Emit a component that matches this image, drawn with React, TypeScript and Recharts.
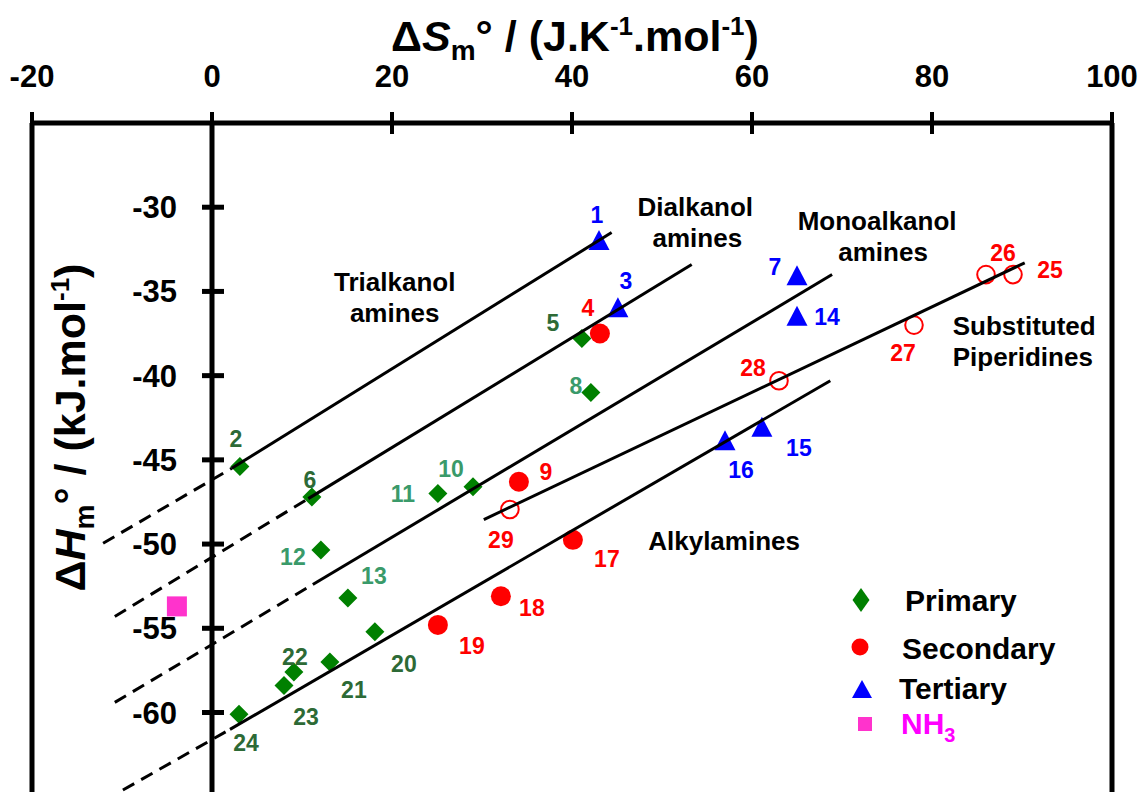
import React from 'react';
import {
  ComposedChart,
  Scatter,
  Line,
  XAxis,
  YAxis,
  ReferenceLine,
  ReferenceDot,
  Legend,
} from 'recharts';

const FONT = '"Liberation Sans", Arial, Helvetica, sans-serif';

// chart frame
const CHART_W = 1142;
const CHART_H = 792;
const MARGIN = { top: 0, right: 30, bottom: 0, left: 31 };
const X_AXIS_H = 123;
const Y_AXIS_W = 1;
const X_DOMAIN: [number, number] = [-20, 100];
const Y_DOMAIN: [number, number] = [-64.72, -25];
const X_TICKS = [-20, 0, 20, 40, 60, 80, 100];
const Y_TICKS = [-60, -55, -50, -45, -40, -35, -30];

// ΔS (s) / ΔH (h) values, id = compound number
const PRIMARY = [
  { id: 2, s: 3.1, h: -45.4 },
  { id: 5, s: 41.1, h: -37.8 },
  { id: 6, s: 11.1, h: -47.2 },
  { id: 8, s: 42.1, h: -41.0 },
  { id: 10, s: 29.0, h: -46.6 },
  { id: 11, s: 25.1, h: -47.0 },
  { id: 12, s: 12.1, h: -50.35 },
  { id: 13, s: 15.1, h: -53.2 },
  { id: 20, s: 18.1, h: -55.2 },
  { id: 21, s: 13.1, h: -57.0 },
  { id: 22, s: 9.1, h: -57.6 },
  { id: 23, s: 8.0, h: -58.4 },
  { id: 24, s: 3.0, h: -60.1 },
];

const SECONDARY = [
  { id: 4, s: 43.1, h: -37.5 },
  { id: 9, s: 34.1, h: -46.3 },
  { id: 17, s: 40.1, h: -49.75 },
  { id: 18, s: 32.1, h: -53.1 },
  { id: 19, s: 25.1, h: -54.8 },
];

const PIPERIDINES = [
  { id: 25, s: 89.0, h: -34.0 },
  { id: 26, s: 86.0, h: -34.0 },
  { id: 27, s: 78.0, h: -37.0 },
  { id: 28, s: 63.0, h: -40.3 },
  { id: 29, s: 33.1, h: -47.95 },
];

const TERTIARY = [
  { id: 1, s: 43.0, h: -32.0 },
  { id: 3, s: 45.1, h: -36.0 },
  { id: 7, s: 65.0, h: -34.1 },
  { id: 14, s: 65.0, h: -36.5 },
  { id: 15, s: 61.1, h: -43.1 },
  { id: 16, s: 57.0, h: -43.9 },
];

const AMMONIA = [{ s: -3.9, h: -53.7 }];

// fitted lines (solid) and their extrapolations (dashed)
const TRIALKANOL_FIT = [{ s: 2.2, h: -45.5 }, { s: 44.4, h: -31.5 }];
const TRIALKANOL_EXT = [{ s: -12.1, h: -49.95 }, { s: 2.2, h: -45.5 }];
const DIALKANOL_FIT = [{ s: 10.7, h: -47.3 }, { s: 53.3, h: -33.4 }];
const DIALKANOL_EXT = [{ s: -10.8, h: -54.3 }, { s: 10.7, h: -47.3 }];
const MONOALKANOL_FIT = [{ s: 11.2, h: -52.4 }, { s: 68.9, h: -34.0 }];
const MONOALKANOL_EXT = [{ s: -10.8, h: -59.4 }, { s: 11.2, h: -52.4 }];
const ALKYLAMINE_FIT = [{ s: 2.0, h: -61.0 }, { s: 68.7, h: -40.3 }];
const ALKYLAMINE_EXT = [{ s: -9.9, h: -64.6 }, { s: 2.0, h: -61.0 }];
const PIPERIDINE_FIT = [{ s: 30.2, h: -48.55 }, { s: 90.3, h: -33.3 }];

const ANNOTATIONS = [
  { s: 20.3, h: -35.3, lines: ['Trialkanol', 'amines'] },
  { s: 53.7, h: -30.87, lines: ['Dialkanol', 'amines'] },
  { s: 73.9, h: -31.67, lines: ['Monoalkanol', 'amines'] },
  { s: 82.3, h: -37.94, lines: ['Substituted', 'Piperidines'] },
  { s: 56.9, h: -49.76, lines: ['Alkylamines'] },
];

const LEGEND_ITEMS = ['Primary', 'Secondary', 'Tertiary', 'NH3'];

// --- layout / styling tables ---
const ANNOTATION_LAYOUT = [
  { anchor: 'middle', dx: [0, 0] },
  { anchor: 'middle', dx: [0, 2] },
  { anchor: 'middle', dx: [0, 6] },
  { anchor: 'start', dx: [0, 0] },
  { anchor: 'middle', dx: [0] },
];

// pixel offset of each number label from its marker
const LABEL_OFFSET: Record<number, [number, number]> = {
  1: [-2, -26], 2: [-4, -28], 3: [8, -27], 4: [-12, -26], 5: [-29, -16],
  6: [-2, -17], 7: [-22, -9], 8: [-15, -6], 9: [27, -10], 10: [-22, -18],
  11: [-35, 0], 12: [-28, 7], 13: [26, -22], 14: [30, 0], 15: [37, 20],
  16: [16, 29], 17: [34, 19], 18: [31, 12], 19: [34, 21], 20: [29, 32],
  21: [24, 28], 22: [1, -15], 23: [22, 31], 24: [7, 29], 25: [37, -5],
  26: [17, -22], 27: [-11, 28], 28: [-26, -13], 29: [-9, 30],
};
const LIGHT_GREEN_IDS = [8, 10, 11, 12, 13];

const GREEN = '#008000';
const RED = '#FF0000';
const BLUE = '#0000FF';
const PINK = '#FF33CC';

const PLOT_W = CHART_W - MARGIN.left - Y_AXIS_W - MARGIN.right;
const ZERO_OFFSET = ((0 - X_DOMAIN[0]) / (X_DOMAIN[1] - X_DOMAIN[0])) * PLOT_W;

const XTick = ({ x, y, payload }: any) => (
  <g>
    <line x1={x} x2={x} y1={y - 11} y2={y + 11} stroke="#000" strokeWidth={4} />
    <text
      x={x}
      y={y - 36}
      textAnchor="middle"
      fontFamily={FONT}
      fontWeight="bold"
      fontSize={31}
      fill="#000"
    >
      {payload.value}
    </text>
  </g>
);

// y ticks sit on the ΔS = 0 line, not on the frame
const YTick = ({ x, y, payload }: any) => {
  const x0 = x + ZERO_OFFSET;
  return (
    <g>
      <line x1={x0 - 10} x2={x0 + 12} y1={y} y2={y} stroke="#000" strokeWidth={5} />
      <text
        x={x0 - 35}
        y={y + 11}
        textAnchor="end"
        fontFamily={FONT}
        fontWeight="bold"
        fontSize={31}
        fill="#000"
      >
        {payload.value}
      </text>
    </g>
  );
};

const XTitle = ({ viewBox }: any) => {
  const cx = viewBox.x + viewBox.width / 2 + 3;
  return (
    <text x={cx} y={viewBox.y + 51} textAnchor="middle" fontFamily={FONT} fontWeight="bold" fontSize={43} fill="#000">
      <tspan>Δ</tspan>
      <tspan fontStyle="italic">S</tspan>
      <tspan fontSize={28} dy={9}>m</tspan>
      <tspan dy={-9}>° / (J.K</tspan>
      <tspan fontSize={26} dy={-16}>-1</tspan>
      <tspan dy={16}>.mol</tspan>
      <tspan fontSize={26} dy={-16}>-1</tspan>
      <tspan dy={16}>)</tspan>
    </text>
  );
};

const YTitle = ({ viewBox }: any) => {
  const bx = viewBox.x + 54;
  const cy = viewBox.y + viewBox.height / 2 - 30;
  return (
    <text
      x={bx}
      y={cy}
      transform={`rotate(-90, ${bx}, ${cy})`}
      textAnchor="middle"
      fontFamily={FONT}
      fontWeight="bold"
      fontSize={43}
      fill="#000"
    >
      <tspan>Δ</tspan>
      <tspan fontStyle="italic">H</tspan>
      <tspan fontSize={28} dy={9}>m</tspan>
      <tspan dy={-9}>° / (kJ.mol</tspan>
      <tspan fontSize={26} dy={-16}>-1</tspan>
      <tspan dy={16}>)</tspan>
    </text>
  );
};

const NumberLabel = ({ cx, cy, id, color }: any) => {
  const [dx, dy] = LABEL_OFFSET[id] || [0, 0];
  return (
    <text
      x={cx + dx}
      y={cy + dy + 8}
      textAnchor="middle"
      fontFamily={FONT}
      fontWeight="bold"
      fontSize={23}
      fill={color}
    >
      {id}
    </text>
  );
};

const DiamondShape = (props: any) => {
  const { cx, cy, payload } = props;
  const r = 9.5;
  const id = payload.id;
  const labelColor = LIGHT_GREEN_IDS.includes(id) ? '#3A9A6A' : '#2D6A36';
  return (
    <g>
      <path d={`M${cx},${cy - r}L${cx + r},${cy}L${cx},${cy + r}L${cx - r},${cy}Z`} fill={GREEN} />
      <NumberLabel cx={cx} cy={cy} id={id} color={labelColor} />
    </g>
  );
};

const CircleShape = (props: any) => {
  const { cx, cy, payload } = props;
  return (
    <g>
      <circle cx={cx} cy={cy} r={10} fill={RED} />
      <NumberLabel cx={cx} cy={cy} id={payload.id} color={RED} />
    </g>
  );
};

const OpenCircleShape = (props: any) => {
  const { cx, cy, payload } = props;
  return (
    <g>
      <circle cx={cx} cy={cy} r={8.8} fill="#fff" stroke={RED} strokeWidth={2} />
      <NumberLabel cx={cx} cy={cy} id={payload.id} color={RED} />
    </g>
  );
};

const TriangleShape = (props: any) => {
  const { cx, cy, payload } = props;
  return (
    <g>
      <path d={`M${cx},${cy - 11}L${cx + 10.5},${cy + 9}L${cx - 10.5},${cy + 9}Z`} fill={BLUE} />
      <NumberLabel cx={cx} cy={cy} id={payload.id} color={BLUE} />
    </g>
  );
};

const SquareShape = (props: any) => {
  const { cx, cy } = props;
  return <rect x={cx - 10} y={cy - 10} width={20} height={20} fill={PINK} />;
};

const makeAnnotation = (index: number) => (props: any) => {
  const { cx, cy } = props;
  const a = ANNOTATIONS[index];
  const layout = ANNOTATION_LAYOUT[index];
  const n = a.lines.length;
  return (
    <g>
      {a.lines.map((t, i) => (
        <text
          key={t}
          x={cx + (layout.dx[i] || 0)}
          y={cy + (i - (n - 1) / 2) * 31 + 10}
          textAnchor={layout.anchor as any}
          fontFamily={FONT}
          fontWeight="bold"
          fontSize={26}
          fill="#000"
        >
          {t}
        </text>
      ))}
    </g>
  );
};

const legendMarker = (name: string, color: string) => {
  if (name === 'Primary')
    return <path d="M21,8L29.5,20L21,32L12.5,20Z" fill={color} />;
  if (name === 'Secondary') return <circle cx={20} cy={67} r={8.5} fill={color} />;
  if (name === 'Tertiary') return <path d="M22,100L32,118L12,118Z" fill={color} />;
  return <rect x={18} y={137} width={14} height={14} fill={color} />;
};

const LEGEND_ROW = [
  { tx: 65, ty: 31 },
  { tx: 62, ty: 79 },
  { tx: 59, ty: 119 },
  { tx: 61, ty: 154 },
];
const LEGEND_DEFAULT_COLOR: Record<string, string> = {
  Primary: GREEN,
  Secondary: RED,
  Tertiary: BLUE,
  NH3: PINK,
};

const renderLegend = ({ payload }: any) => {
  return (
    <svg width={280} height={175}>
      {LEGEND_ITEMS.map((name, i) => {
        const entry = (payload || []).find((p: any) => p.value === name);
        const color = (entry && entry.color) || LEGEND_DEFAULT_COLOR[name];
        const row = LEGEND_ROW[i];
        return (
          <g key={name}>
            {legendMarker(name, color)}
            <text
              x={row.tx}
              y={row.ty}
              fontFamily={FONT}
              fontWeight="bold"
              fontSize={30}
              fill={name === 'NH3' ? '#FF00FF' : '#000'}
            >
              {name === 'NH3' ? (
                <>
                  NH<tspan fontSize={20} dy={8}>3</tspan>
                </>
              ) : (
                name
              )}
            </text>
          </g>
        );
      })}
    </svg>
  );
};

export default function App() {
  const solid = { stroke: '#000', strokeWidth: 3, dot: false, activeDot: false, isAnimationActive: false, legendType: 'none' as const, type: 'linear' as const };
  const dashed = { ...solid, strokeWidth: 3, strokeDasharray: '13 8' };

  return (
    <div style={{ position: 'absolute', left: 0, top: 0, width: CHART_W, height: CHART_H, background: '#fff', overflow: 'hidden' }}>
      <ComposedChart width={CHART_W} height={CHART_H} margin={MARGIN}>
        <XAxis
          dataKey="s"
          type="number"
          orientation="top"
          height={X_AXIS_H}
          domain={X_DOMAIN}
          ticks={X_TICKS}
          interval={0}
          allowDataOverflow
          tickLine={false}
          tickSize={0}
          tickMargin={0}
          tick={<XTick />}
          axisLine={{ stroke: '#000', strokeWidth: 5 }}
          label={<XTitle />}
        />
        <YAxis
          dataKey="h"
          type="number"
          width={Y_AXIS_W}
          domain={Y_DOMAIN}
          ticks={Y_TICKS}
          interval={0}
          allowDataOverflow
          tickLine={false}
          tickSize={0}
          tickMargin={0}
          tick={<YTick />}
          axisLine={{ stroke: '#000', strokeWidth: 5 }}
          label={<YTitle />}
        />
        <ReferenceLine x={0} stroke="#000" strokeWidth={5} />
        <ReferenceLine x={100} stroke="#000" strokeWidth={5} />

        <Scatter name="Primary" data={PRIMARY} fill={GREEN} shape={DiamondShape} isAnimationActive={false} />
        <Scatter name="Secondary" data={SECONDARY} fill={RED} shape={CircleShape} isAnimationActive={false} />
        <Scatter name="Substituted" data={PIPERIDINES} fill={RED} shape={OpenCircleShape} legendType="none" isAnimationActive={false} />
        <Scatter name="Tertiary" data={TERTIARY} fill={BLUE} shape={TriangleShape} isAnimationActive={false} />
        <Scatter name="NH3" data={AMMONIA} fill={PINK} shape={SquareShape} isAnimationActive={false} />

        <Line {...solid} data={TRIALKANOL_FIT} dataKey="h" zIndex={650} />
        <Line {...dashed} data={TRIALKANOL_EXT} dataKey="h" zIndex={650} />
        <Line {...solid} data={DIALKANOL_FIT} dataKey="h" zIndex={650} />
        <Line {...dashed} data={DIALKANOL_EXT} dataKey="h" zIndex={650} />
        <Line {...solid} data={MONOALKANOL_FIT} dataKey="h" zIndex={650} />
        <Line {...dashed} data={MONOALKANOL_EXT} dataKey="h" zIndex={650} />
        <Line {...solid} data={ALKYLAMINE_FIT} dataKey="h" zIndex={650} />
        <Line {...dashed} data={ALKYLAMINE_EXT} dataKey="h" zIndex={650} />
        <Line {...solid} data={PIPERIDINE_FIT} dataKey="h" zIndex={650} />

        {ANNOTATIONS.map((a, i) => (
          <ReferenceDot key={a.lines[0]} x={a.s} y={a.h} r={0} shape={makeAnnotation(i)} />
        ))}

        <Legend
          layout="vertical"
          align="center"
          verticalAlign="middle"
          content={renderLegend}
          wrapperStyle={{ position: 'absolute', left: 840, top: 580, right: 'auto', bottom: 'auto', width: 280, height: 175 }}
        />
      </ComposedChart>
    </div>
  );
}
